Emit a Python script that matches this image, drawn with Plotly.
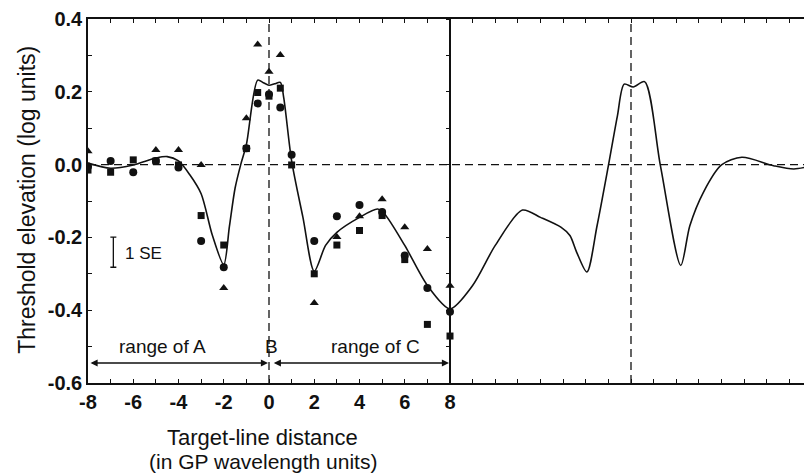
import plotly.graph_objects as go

# ---- data ----
dist = [-8, -7, -6, -5, -4, -3, -2, -1, -0.5, 0, 0.5, 1, 2, 3, 4, 5, 6, 7, 8]
tri = [0.037, None, None, 0.040, 0.040, -0.001, -0.339, 0.127, 0.330, 0.255, 0.301, None,
       -0.380, -0.199, -0.142, -0.095, -0.172, -0.232, -0.333]
circ = [-0.005, 0.010, -0.021, 0.010, -0.008, -0.210, -0.282, 0.045, 0.168, 0.193, 0.157, 0.027,
        -0.210, -0.142, -0.111, -0.130, -0.250, -0.339, -0.404]
sq = [-0.015, -0.021, 0.013, 0.010, -0.001, -0.140, -0.221, 0.044, 0.198, 0.188, 0.210, -0.001,
      -0.300, -0.221, -0.181, -0.140, -0.261, -0.439, -0.471]

curve_x = [-8, -7, -6, -5, -4.5, -4, -3.5, -3, -2.5, -2, -1.75, -1.5, -1.25, -1, -0.5, -0.25, 0,
           0.25, 0.5, 0.65, 1, 1.5, 2, 2.5, 3, 4, 4.8, 5.1, 6, 7, 8,
           9, 10, 11.2, 12, 12.9, 13.3, 13.6, 14.05, 14.5, 15, 15.4, 15.7, 16.1, 16.6, 17.3,
           18.2, 18.6, 19.2, 20, 20.9, 22.3, 23.2, 24]
curve_y = [0.004, -0.010, -0.001, 0.018, 0.022, 0.010, -0.028, -0.080, -0.195, -0.275, -0.17,
           -0.065, 0.0, 0.055, 0.232, 0.225, 0.218, 0.222, 0.226, 0.184, 0.010, -0.145, -0.293,
           -0.222, -0.186, -0.145, -0.122, -0.135, -0.222, -0.332, -0.396,
           -0.332, -0.222, -0.125, -0.145, -0.172, -0.195, -0.241, -0.295, -0.168, -0.003,
           0.134, 0.221, 0.213, 0.228, -0.003, -0.277, -0.168, -0.076, -0.001, 0.020, -0.003,
           -0.012, -0.003]

x_ticks = list(range(-8, 25))
x_labels = [str(v) if (v <= 8 and v % 2 == 0) else "" for v in x_ticks]
y_ticks = [-0.6, -0.5, -0.4, -0.3, -0.2, -0.1, 0.0, 0.1, 0.2, 0.3, 0.4]
y_labels = ["-0.6", "", "-0.4", "", "-0.2", "", "0.0", "", "0.2", "", "0.4"]

se_x, se_center, se_half = -6.88, -0.2405, 0.0415

FONT = "Liberation Sans, Arial, Helvetica, sans-serif"
BLACK = "#111111"

fig = go.Figure()

fig.add_trace(go.Scatter(x=curve_x, y=curve_y, mode="lines",
                         line=dict(color=BLACK, width=1.6, shape="spline", smoothing=0.8),
                         hoverinfo="skip", showlegend=False))
fig.add_trace(go.Scatter(x=dist, y=tri, mode="markers",
                         marker=dict(symbol="triangle-up", size=8, color=BLACK),
                         showlegend=False))
fig.add_trace(go.Scatter(x=dist, y=circ, mode="markers",
                         marker=dict(symbol="circle", size=8, color=BLACK),
                         showlegend=False))
fig.add_trace(go.Scatter(x=dist, y=sq, mode="markers",
                         marker=dict(symbol="square", size=7, color=BLACK),
                         showlegend=False))
# 1 SE bar
fig.add_trace(go.Scatter(x=[se_x], y=[se_center], mode="markers",
                         marker=dict(size=1, color="rgba(0,0,0,0)"),
                         error_y=dict(type="constant", value=se_half, color=BLACK,
                                      thickness=1.3, width=3),
                         hoverinfo="skip", showlegend=False))
# invisible trace on the inner axis at x = 8
fig.add_trace(go.Scatter(x=[8], y=[0], yaxis="y2", mode="markers",
                         marker=dict(size=1, color="rgba(0,0,0,0)"),
                         hoverinfo="skip", showlegend=False))

# dashed reference lines
fig.add_shape(type="line", xref="paper", yref="y", x0=0, x1=1, y0=0, y1=0,
              line=dict(color=BLACK, width=1.3, dash="8px,5px"))
for xv in [0, 16]:
    fig.add_shape(type="line", xref="x", yref="paper", x0=xv, x1=xv, y0=0, y1=1,
                  line=dict(color=BLACK, width=1.3, dash="8px,5px"))

# range arrows
arrow_y = -0.545
fig.add_annotation(x=0, y=arrow_y, ax=-8, ay=arrow_y, xref="x", yref="y", axref="x", ayref="y",
                   text="", showarrow=True, arrowhead=2, arrowside="end+start",
                   arrowsize=1.1, arrowwidth=1.3, arrowcolor=BLACK, standoff=1, startstandoff=1)
fig.add_annotation(x=8, y=arrow_y, ax=0.1, ay=arrow_y, xref="x", yref="y", axref="x", ayref="y",
                   text="", showarrow=True, arrowhead=2, arrowside="end+start",
                   arrowsize=1.1, arrowwidth=1.3, arrowcolor=BLACK, standoff=1, startstandoff=1)

txt_font = dict(family=FONT, size=19, color=BLACK)
fig.add_annotation(x=-4.69, y=-0.50, xref="x", yref="y", text="range of A", showarrow=False,
                   font=txt_font)
fig.add_annotation(x=0.09, y=-0.50, xref="x", yref="y", text="B", showarrow=False,
                   font=txt_font)
fig.add_annotation(x=4.72, y=-0.50, xref="x", yref="y", text="range of C", showarrow=False,
                   font=txt_font)
fig.add_annotation(x=-6.45, y=-0.245, xref="x", yref="y", text="1 SE", showarrow=False,
                   xanchor="left", font=dict(family=FONT, size=17, color=BLACK))

# axis titles
fig.add_annotation(x=-0.0843, y=0.503, xref="paper", yref="paper",
                   text="Threshold elevation (log units)", textangle=-90, showarrow=False,
                   xanchor="center", yanchor="middle",
                   font=dict(family=FONT, size=23, color=BLACK))
fig.add_annotation(x=0.2417, y=-0.1484, xref="paper", yref="paper",
                   text="Target-line distance", showarrow=False,
                   xanchor="center", yanchor="middle",
                   font=dict(family=FONT, size=22, color=BLACK))
fig.add_annotation(x=0.2417, y=-0.2143, xref="paper", yref="paper",
                   text="(in GP wavelength units)", showarrow=False,
                   xanchor="center", yanchor="middle",
                   font=dict(family=FONT, size=21, color=BLACK))

# page body adds an 8px offset; figure is sized so the plot area lands at the reference spot
fig.update_layout(
    width=804, height=465,
    margin=dict(l=80, r=0, t=11, b=90),
    paper_bgcolor="white", plot_bgcolor="white",
    font=dict(family=FONT, color=BLACK),
    xaxis=dict(range=[-8, 24], tickvals=x_ticks, ticktext=x_labels, ticks="inside",
               ticklen=4, tickwidth=1.2, tickcolor=BLACK, showline=True, linecolor=BLACK,
               linewidth=1.6, mirror="ticks", showgrid=False, zeroline=False,
               tickfont=dict(family=FONT, size=20, color=BLACK, weight="bold")),
    yaxis=dict(range=[-0.6, 0.4], tickvals=y_ticks, ticktext=y_labels, ticks="inside",
               ticklen=4, tickwidth=1.2, tickcolor=BLACK, showline=True, linecolor=BLACK,
               linewidth=1.6, showgrid=False, zeroline=False,
               tickfont=dict(family=FONT, size=20, color=BLACK, weight="bold")),
    yaxis2=dict(range=[-0.6, 0.4], overlaying="y", anchor="free", position=0.5, side="left",
                tickvals=y_ticks, ticks="outside", ticklen=3, tickwidth=1.2, tickcolor=BLACK,
                showticklabels=False, showline=True, linecolor=BLACK, linewidth=1.6,
                showgrid=False, zeroline=False),
)

fig.write_html("out.html")
